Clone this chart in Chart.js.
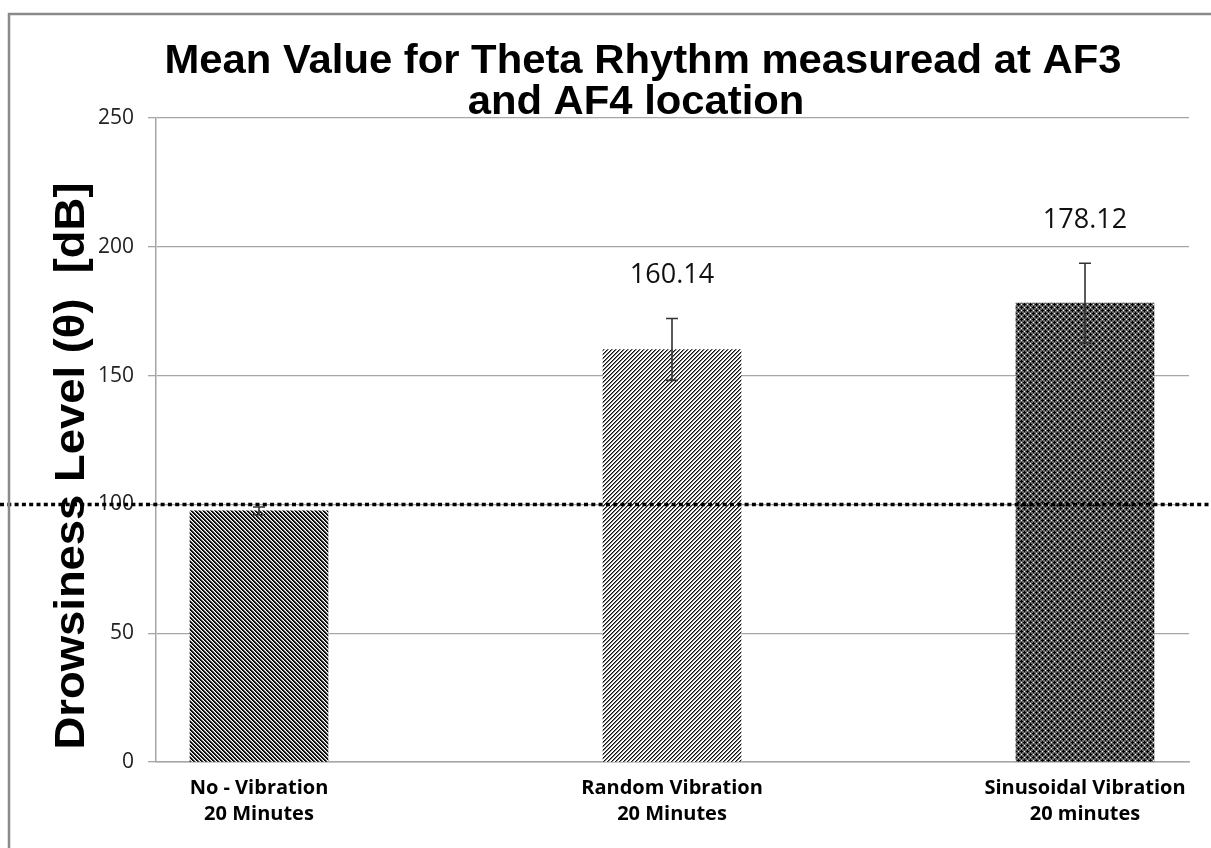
<!DOCTYPE html>
<html>
<head>
<meta charset="utf-8">
<script src="https://cdn.jsdelivr.net/npm/chart.js@4/dist/chart.umd.min.js"></script>
<style>
  html, body { margin: 0; padding: 0; background: #fff; }
  #wrap { width: 1211px; height: 848px; position: relative; }
</style>
</head>
<body>
<div id="wrap"><canvas id="chart"></canvas></div>
<script>
// Conditions on the x axis (two-line labels)
const categories = [
  ['No - Vibration', '20 Minutes'],
  ['Random Vibration', '20 Minutes'],
  ['Sinusoidal Vibration', '20 minutes']
];
// Mean theta-rhythm level per condition
const meanValues = [97.5, 160.14, 178.12];
// Half-width of the error bar per condition
const errorMargins = [1.5, 12, 15.5];
// Value labels written above the bars (null = no label)
const valueLabels = [null, '160.14', '178.12'];
// Y axis ticks
const yTicks = [0, 50, 100, 150, 200, 250];
// Drowsiness threshold shown as a dotted line
const thresholdLevel = 100;

const titleLines = ['Mean Value for Theta Rhythm measuread at AF3', 'and AF4 location'];
const yTitle = 'Drowsiness Level (\u03B8)  [dB]';

// Hatch fills for the three bars
function makeTile(size, painter) {
  const c = document.createElement('canvas');
  c.width = size; c.height = size;
  const g = c.getContext('2d');
  for (let y = 0; y < size; y++) {
    for (let x = 0; x < size; x++) {
      g.fillStyle = painter(x, y);
      g.fillRect(x, y, 1, 1);
    }
  }
  return c;
}
const pctx = document.createElement('canvas').getContext('2d');
const darkDownward = pctx.createPattern(makeTile(4, (x, y) => {
  const k = ((x - y) % 4 + 4) % 4;
  return k === 0 ? '#000' : k === 1 ? '#1a1a1a' : k === 2 ? '#999' : '#fff';
}), 'repeat');
const lightUpward = pctx.createPattern(makeTile(4, (x, y) => {
  const k = (x + y) % 4;
  return k === 0 ? '#111' : k === 1 ? '#777' : '#fff';
}), 'repeat');
function isPlus(x, y, cx, cy) {
  return (x === cx && Math.abs(y - cy) <= 1) || (y === cy && Math.abs(x - cx) <= 1);
}
const sphereGrid = pctx.createPattern(makeTile(6, (x, y) => {
  if (isPlus(x, y, 1, 1) || isPlus(x, y, 4, 4)) return '#000';
  if ((x === 4 && y === 1) || (x === 1 && y === 4)) return '#fff';
  return '#666';
}), 'repeat');

// Draws text centred at (cx, baseline y), stretched to a given width
function fitText(c, text, cx, y, width) {
  const w = c.measureText(text).width;
  c.save();
  c.translate(cx, y);
  c.scale(width / w, 1);
  c.fillText(text, 0, 0);
  c.restore();
}

const pagePlugin = {
  id: 'page',
  beforeDraw(chart) {
    const c = chart.ctx;
    c.save();
    c.fillStyle = '#fff';
    c.fillRect(0, 0, chart.width, chart.height);
    c.restore();
  },
  afterDraw(chart) {
    const c = chart.ctx;
    c.save();
    // frame
    c.strokeStyle = '#8a8a8a';
    c.lineWidth = 2.5;
    c.strokeRect(9, 14, chart.width + 40, chart.height + 40);
    // title
    c.fillStyle = '#000';
    c.font = 'bold 41px "Liberation Sans", Arial, sans-serif';
    c.textAlign = 'center';
    c.textBaseline = 'alphabetic';
    const s = 957 / c.measureText(titleLines[0]).width;
    fitText(c, titleLines[0], 643, 73, 957);
    fitText(c, titleLines[1], 636, 114, c.measureText(titleLines[1]).width * s);
    // y axis title
    c.translate(72, 466);
    c.rotate(-Math.PI / 2);
    c.font = 'bold 42px "Liberation Sans", Arial, sans-serif';
    c.textBaseline = 'middle';
    fitText(c, yTitle, 0, 0, 567);
    c.restore();
  }
};

const overlayPlugin = {
  id: 'overlay',
  afterDatasetsDraw(chart) {
    const c = chart.ctx;
    const xs = chart.scales.x, ys = chart.scales.y;
    c.save();
    // error bars
    c.strokeStyle = '#333';
    c.lineWidth = 1.6;
    meanValues.forEach((v, i) => {
      const px = xs.getPixelForValue(i);
      const top = ys.getPixelForValue(v + errorMargins[i]);
      const bot = ys.getPixelForValue(v - errorMargins[i]);
      c.beginPath();
      c.moveTo(px, top); c.lineTo(px, bot);
      c.moveTo(px - 6, top); c.lineTo(px + 6, top);
      c.moveTo(px - 6, bot); c.lineTo(px + 6, bot);
      c.stroke();
    });
    // threshold line across the whole figure
    const ty = ys.getPixelForValue(thresholdLevel);
    c.strokeStyle = '#000';
    c.lineWidth = 3.5;
    c.setLineDash([4, 3.3]);
    c.beginPath();
    c.moveTo(0, ty); c.lineTo(chart.width, ty);
    c.stroke();
    c.setLineDash([]);
    // value labels
    c.fillStyle = '#111';
    c.font = '27px "Open Sans", sans-serif';
    c.textAlign = 'center';
    c.textBaseline = 'middle';
    meanValues.forEach((v, i) => {
      if (!valueLabels[i]) return;
      const px = xs.getPixelForValue(i);
      const top = ys.getPixelForValue(v + errorMargins[i]);
      c.fillText(valueLabels[i], px, top - 43);
    });
    c.restore();
  }
};

new Chart(document.getElementById('chart'), {
  type: 'bar',
  data: {
    datasets: [{
      data: meanValues.map((v, i) => ({ x: i, y: v })),
      backgroundColor: [darkDownward, lightUpward, sphereGrid],
      borderWidth: 0,
      barThickness: 138
    }]
  },
  options: {
    responsive: true,
    maintainAspectRatio: false,
    animation: false,
    devicePixelRatio: 1,
    layout: { padding: { top: 118, right: 22, left: 0, bottom: 0 } },
    plugins: { legend: { display: false }, tooltip: { enabled: false }, title: { display: false } },
    scales: {
      x: {
        type: 'linear',
        offset: false,
        min: -0.2494,
        max: 2.2518,
        afterBuildTicks(s) { s.ticks = categories.map((_, i) => ({ value: i })); },
        afterFit(s) { s.height = 86; },
        grid: { display: false },
        border: { display: true, color: '#a6a6a6', width: 1.5 },
        ticks: {
          callback: v => categories[v],
          color: '#000',
          font: { family: '"Open Sans", sans-serif', weight: 'bold', size: 20, lineHeight: 1.3 },
          padding: 5,
          maxRotation: 0,
          autoSkip: false
        }
      },
      y: {
        min: 0,
        max: 250,
        afterBuildTicks(s) { s.ticks = yTicks.map(v => ({ value: v })); },
        afterFit(s) { s.width = 156; },
        grid: { color: '#a6a6a6', lineWidth: 1.3, tickLength: 8, drawTicks: true },
        border: { display: true, color: '#a6a6a6', width: 1.5 },
        ticks: {
          color: '#222',
          font: { family: '"Open Sans", sans-serif', size: 21 },
          padding: 14
        }
      }
    }
  },
  plugins: [pagePlugin, overlayPlugin]
});
</script>
</body>
</html>
